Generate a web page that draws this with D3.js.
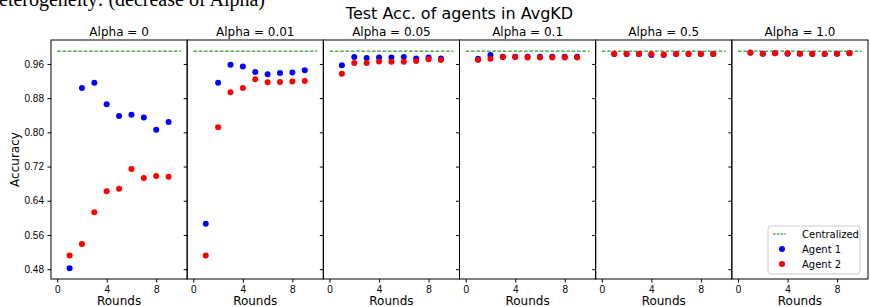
<!DOCTYPE html>
<html>
<head>
<meta charset="utf-8">
<script src="https://cdn.jsdelivr.net/npm/d3@7"></script>
<style>
    body { margin: 0; background: #fff; }
    svg { display: block; font-family: "DejaVu Sans", sans-serif; }
    .tick text { font-size: 10px; fill: #000; }
    .tick line, .domain { stroke: #000; }
</style>
</head>
<body>
<div id="chart"></div>
<script>
// rounds on the x axis, one panel per alpha
var rounds = [1, 2, 3, 4, 5, 6, 7, 8, 9];
var alphaLabels = ["0", "0.01", "0.05", "0.1", "0.5", "1.0"];

// test accuracy of agent 1, one row per alpha
var agent1Acc = [
    [0.482, 0.904, 0.916, 0.866, 0.838, 0.841, 0.835, 0.806, 0.824],
    [0.586, 0.916, 0.958, 0.954, 0.941, 0.936, 0.939, 0.940, 0.945],
    [0.957, 0.976, 0.974, 0.975, 0.975, 0.976, 0.973, 0.975, 0.973],
    [0.972, 0.981, 0.977, 0.977, 0.977, 0.977, 0.977, 0.977, 0.977],
    [0.983, 0.983, 0.983, 0.981, 0.981, 0.983, 0.983, 0.983, 0.983],
    [0.986, 0.984, 0.985, 0.984, 0.984, 0.983, 0.983, 0.984, 0.985]
];

// test accuracy of agent 2, one row per alpha
var agent2Acc = [
    [0.512, 0.539, 0.613, 0.662, 0.668, 0.714, 0.693, 0.698, 0.696],
    [0.512, 0.812, 0.894, 0.904, 0.924, 0.917, 0.918, 0.919, 0.920],
    [0.937, 0.962, 0.962, 0.966, 0.965, 0.965, 0.967, 0.971, 0.969],
    [0.969, 0.972, 0.976, 0.976, 0.975, 0.975, 0.975, 0.975, 0.975],
    [0.984, 0.983, 0.983, 0.983, 0.982, 0.983, 0.983, 0.983, 0.983],
    [0.9865, 0.984, 0.985, 0.985, 0.984, 0.984, 0.983, 0.984, 0.985]
];

var centralizedAcc = 0.990;
var centralizedRange = [0, 10];
var yTicks = [0.48, 0.56, 0.64, 0.72, 0.80, 0.88, 0.96];
var xTicks = [0, 4, 8];

/**
 * Constructor for the small multiples chart
 */
function AlphaChart(){
    var self = this;
    self.init();
};

/**
 * Sets up the svg, sizes and shared scales
 */
AlphaChart.prototype.init = function(){
    var self = this;
    self.margin = {top: 40, right: 2, bottom: 28, left: 51};
    self.svgWidth = 870;
    self.svgHeight = 307;
    self.panelWidth = (self.svgWidth - self.margin.left - self.margin.right) / alphaLabels.length;
    self.panelHeight = self.svgHeight - self.margin.top - self.margin.bottom;

    self.svg = d3.select("#chart").append("svg")
        .attr("width", self.svgWidth)
        .attr("height", self.svgHeight);

    self.yScale = d3.scaleLinear()
        .domain([0.457, 1.016])
        .range([self.margin.top + self.panelHeight, self.margin.top]);
};

/**
 * Draws every panel, the titles and the legend
 */
AlphaChart.prototype.update = function(){
    var self = this;

    // caption of the page above, cut off by the crop (as in the source)
    self.svg.append("text")
        .attr("x", -1)
        .attr("y", 6)
        .style("font-family", "'Liberation Serif', serif")
        .style("font-size", "20px")
        .text("eterogeneity: (decrease of Alpha)");

    self.svg.append("text")
        .attr("x", self.margin.left + self.panelWidth * alphaLabels.length / 2)
        .attr("y", 19)
        .style("text-anchor", "middle")
        .style("font-size", "16px")
        .text("Test Acc. of agents in AvgKD");

    alphaLabels.forEach(function(alpha, i){
        var x0 = self.margin.left + i * self.panelWidth;
        var xScale = d3.scaleLinear()
            .domain([-0.5, 10.5])
            .range([x0, x0 + self.panelWidth]);
        var g = self.svg.append("g");

        var yAxis = d3.axisLeft(self.yScale)
            .tickValues(yTicks)
            .tickSize(3.5)
            .tickPadding(3.5)
            .tickFormat(i == 0 ? d3.format(".2f") : "");
        g.append("g")
            .attr("transform", "translate(" + x0 + ",0)")
            .call(yAxis)
            .call(function(a){ a.select(".domain").remove(); });

        var xAxis = d3.axisBottom(xScale)
            .tickValues(xTicks)
            .tickSize(3.5)
            .tickPadding(3.5)
            .tickFormat(d3.format("d"));
        g.append("g")
            .attr("transform", "translate(0," + (self.margin.top + self.panelHeight) + ")")
            .call(xAxis)
            .call(function(a){ a.select(".domain").remove(); });

        // centralized baseline
        g.append("line")
            .attr("x1", xScale(centralizedRange[0]))
            .attr("x2", xScale(centralizedRange[1]))
            .attr("y1", self.yScale(centralizedAcc))
            .attr("y2", self.yScale(centralizedAcc))
            .attr("stroke", "#008000")
            .attr("stroke-width", 1)
            .attr("stroke-dasharray", "3.7,1.6");

        g.selectAll(".agent1")
            .data(agent1Acc[i])
            .enter().append("circle")
            .attr("cx", function(d, j){ return xScale(rounds[j]); })
            .attr("cy", function(d){ return self.yScale(d); })
            .attr("r", 3)
            .attr("fill", "#0000ff");

        g.selectAll(".agent2")
            .data(agent2Acc[i])
            .enter().append("circle")
            .attr("cx", function(d, j){ return xScale(rounds[j]); })
            .attr("cy", function(d){ return self.yScale(d); })
            .attr("r", 3)
            .attr("fill", "#ff0000");

        g.append("rect")
            .attr("x", x0)
            .attr("y", self.margin.top)
            .attr("width", self.panelWidth)
            .attr("height", self.panelHeight)
            .attr("fill", "none")
            .attr("stroke", "#000")
            .attr("stroke-width", 1);

        g.append("text")
            .attr("x", x0 + self.panelWidth / 2)
            .attr("y", 36)
            .style("text-anchor", "middle")
            .style("font-size", "12px")
            .text("Alpha = " + alpha);

        g.append("text")
            .attr("x", x0 + self.panelWidth / 2)
            .attr("y", 305)
            .style("text-anchor", "middle")
            .style("font-size", "12px")
            .text("Rounds");
    });

    self.svg.append("text")
        .attr("transform", "translate(19," + (self.margin.top + self.panelHeight / 2) + ") rotate(-90)")
        .style("text-anchor", "middle")
        .style("font-size", "12px")
        .text("Accuracy");

    self.drawLegend();
};

/**
 * Legend in the lower right corner of the last panel
 */
AlphaChart.prototype.drawLegend = function(){
    var self = this;
    var lx = 768, ly = 226;
    var legend = self.svg.append("g").attr("transform", "translate(" + lx + "," + ly + ")");

    legend.append("rect")
        .attr("width", 92)
        .attr("height", 48)
        .attr("rx", 3)
        .attr("fill", "#fff")
        .attr("fill-opacity", 0.8)
        .attr("stroke", "#cccccc");

    legend.append("line")
        .attr("x1", 5).attr("x2", 18)
        .attr("y1", 8).attr("y2", 8)
        .attr("stroke", "#008000")
        .attr("stroke-dasharray", "2.6,1.2");

    var entries = [
        {label: "Centralized", color: null},
        {label: "Agent 1", color: "#0000ff"},
        {label: "Agent 2", color: "#ff0000"}
    ];
    entries.forEach(function(e, k){
        var cy = 8 + k * 15;
        if (e.color){
            legend.append("circle")
                .attr("cx", 14).attr("cy", cy)
                .attr("r", 3)
                .attr("fill", e.color);
        }
        legend.append("text")
            .attr("x", 34)
            .attr("y", cy + 3.6)
            .style("font-size", "10px")
            .text(e.label);
    });
};

var chart = new AlphaChart();
chart.update();
</script>
</body>
</html>
